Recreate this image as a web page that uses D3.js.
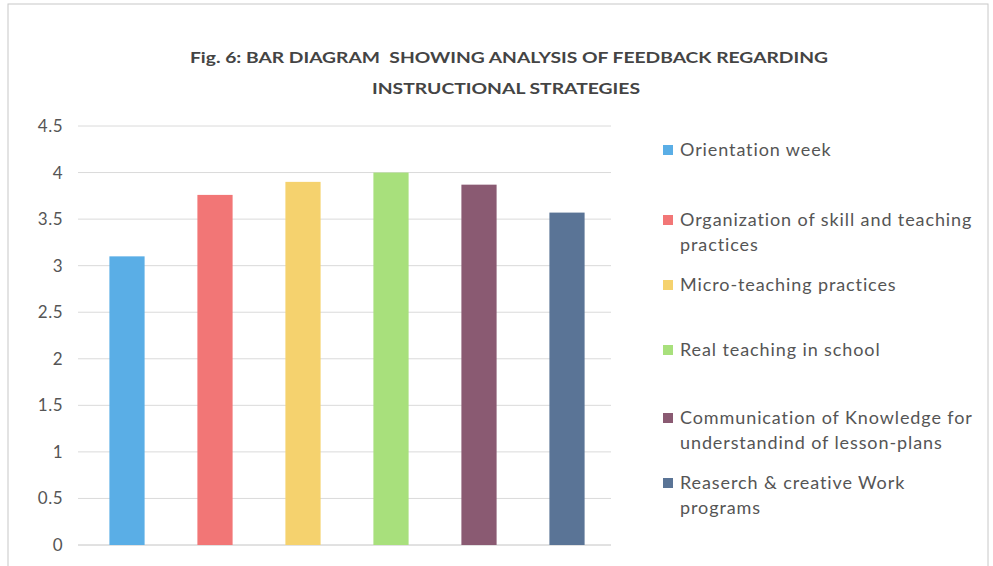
<!DOCTYPE html>
<html>
<head>
<meta charset="utf-8">
<script src="https://cdn.jsdelivr.net/npm/d3@7"></script>
<style>
  body { margin: 0; background: #fff; }
  svg { display: block; font-family: Lato, "Open Sans", sans-serif; }
</style>
</head>
<body>
<svg id="chart" width="993" height="566"></svg>
<script>
// data
const categories = [
  "Orientation week",
  "Organization of skill and teaching practices",
  "Micro-teaching practices",
  "Real teaching in school",
  "Communication of Knowledge for understandind of lesson-plans",
  "Reaserch & creative Work programs"
];
const values = [3.1, 3.76, 3.9, 4.0, 3.87, 3.57];
const legendLines = [
  ["Orientation week"],
  ["Organization of skill and teaching", "practices"],
  ["Micro-teaching practices"],
  ["Real teaching in school"],
  ["Communication of Knowledge for", "understandind of lesson-plans"],
  ["Reaserch & creative Work", "programs"]
];
const colors = ["#5aaee6", "#f27676", "#f5d26e", "#a8e07c", "#8a5a72", "#5a7496"];
const yTicks = [0, 0.5, 1, 1.5, 2, 2.5, 3, 3.5, 4, 4.5];
const titleLines = ["Fig. 6: BAR DIAGRAM  SHOWING ANALYSIS OF FEEDBACK REGARDING", "INSTRUCTIONAL STRATEGIES"];

const svg = d3.select("#chart");

// outer frame
svg.append("rect")
  .attr("x", 8).attr("y", 4).attr("width", 980).attr("height", 570)
  .attr("fill", "none").attr("stroke", "#c8c8c8");

const plotLeft = 83, plotRight = 611, plotTop = 126, plotBottom = 545;

const x = d3.scaleBand().domain(categories).range([plotLeft, plotRight]).paddingInner(0.6).paddingOuter(0.3);
const y = d3.scaleLinear().domain([0, 4.5]).range([plotBottom, plotTop]);

// gridlines
svg.append("g").selectAll("line")
  .data(yTicks)
  .enter().append("line")
  .attr("x1", 78).attr("x2", plotRight)
  .attr("y1", d => y(d)).attr("y2", d => y(d))
  .attr("stroke", d => d === 0 ? "#c4c4c4" : "#dadada")
  .attr("stroke-width", 1);

// y axis labels
const yAxis = d3.axisLeft(y).tickValues(yTicks).tickSize(0).tickPadding(0)
  .tickFormat(d3.format("~g"));
const yG = svg.append("g").attr("transform", "translate(63,0)").call(yAxis);
yG.select(".domain").remove();
yG.selectAll("text").attr("fill", "#555").attr("font-size", 17)
  .attr("letter-spacing", 0.5).attr("font-family", "Lato, sans-serif");

// bars
svg.append("g").selectAll("rect")
  .data(values)
  .enter().append("rect")
  .attr("x", (d, i) => x(categories[i]))
  .attr("y", d => y(d))
  .attr("width", x.bandwidth())
  .attr("height", d => y(0) - y(d))
  .attr("fill", (d, i) => colors[i]);

// title (keep the double space)
svg.append("text")
  .attr("x", 509).attr("y", 63)
  .attr("text-anchor", "middle")
  .style("white-space", "pre")
  .attr("font-weight", "bold").attr("font-size", 15).attr("fill", "#444")
  .attr("textLength", 638).attr("lengthAdjust", "spacingAndGlyphs")
  .text(titleLines[0]);
svg.append("text")
  .attr("x", 506).attr("y", 94)
  .attr("text-anchor", "middle")
  .attr("font-weight", "bold").attr("font-size", 15).attr("fill", "#444")
  .attr("textLength", 268).attr("lengthAdjust", "spacingAndGlyphs")
  .text(titleLines[1]);

// legend
const legendY = [156, 226, 291, 356, 424, 489];
const legend = svg.append("g").selectAll("g")
  .data(legendLines)
  .enter().append("g")
  .attr("transform", (d, i) => `translate(663,${legendY[i]})`);
legend.append("rect")
  .attr("x", 0).attr("y", -11).attr("width", 10).attr("height", 10)
  .attr("fill", (d, i) => colors[i]);
legend.each(function(lines) {
  const g = d3.select(this);
  lines.forEach((t, j) => {
    g.append("text")
      .attr("x", 17).attr("y", j * 25)
      .attr("font-size", 18).attr("letter-spacing", 0.9).attr("fill", "#555")
      .text(t);
  });
});
</script>
</body>
</html>
